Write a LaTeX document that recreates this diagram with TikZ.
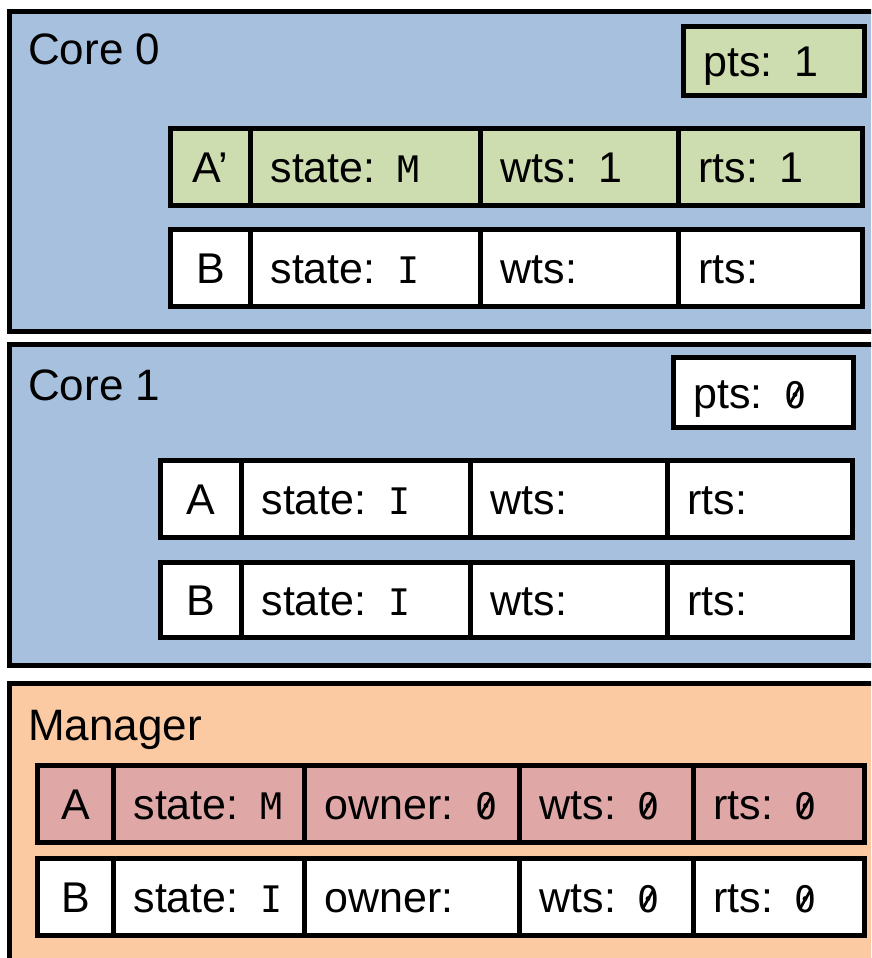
\documentclass[tikz,border=0pt]{standalone}
\usepackage{fontspec}
\setmainfont{Liberation Sans}
\newfontfamily\codefont{DejaVu Sans Mono}[Scale=0.85]
\usetikzlibrary{positioning}
\definecolor{corefill}{HTML}{A7C0DE}
\definecolor{mgrfill}{HTML}{FBCAA2}
\definecolor{newfill}{HTML}{CEDDAF}
\definecolor{ownfill}{HTML}{E0A7A7}
\newcommand{\cd}[1]{{\codefont #1}}
% slashed zero, as the code font prints it
\newcommand{\zr}{{\codefont\ooalign{0\cr\hidewidth\raisebox{.1em}{\rotatebox{60}{\rule{.6em}{.075em}}}\hidewidth\cr}}}
\tikzset{
  big/.style={font=\fontsize{43}{52}\selectfont},
  frame/.style={draw=black, line width=5pt, anchor=north west, inner sep=0pt},
  cell/.style={big, draw=black, fill=white, line width=5pt, anchor=north west, inner xsep=20pt, inner ysep=0pt,
               text height=31pt, text depth=0pt, align=left, minimum height=77pt},
  keycell/.style={cell, inner xsep=0pt, align=center},
  title/.style={font=\fontsize{44}{52}\selectfont, anchor=base west, inner sep=0pt},
}
\begin{document}
\begin{tikzpicture}[x=1pt, y=-1pt]
  \clip (0,0) rectangle (871,958);
  % Core 0
  \node[frame, fill=corefill, minimum width=900pt, minimum height=320pt] (core0) at (7,9) {};
  \node[title] (core0t) at (28,65) {Core 0};
  \node[cell, fill=newfill, text width=141pt, minimum height=69pt] (pts0) at (681,24) {pts: 1};
  \node[keycell, fill=newfill, minimum width=80pt] (c0a) at (168,126) {A’};
  \foreach \n/\x/\w/\t [evaluate=\w as \tw using \w-40] in {st/248/230/{state: \cd{M}}, wts/478/198/{wts: 1}, rts/676/184/{rts: 1}}
    \node[cell, fill=newfill, text width=\tw pt] (c0a-\n) at (\x,126) {\mbox{\t}};
  \node[keycell, minimum width=80pt] (c0b) at (168,227) {B};
  \foreach \n/\x/\w/\t [evaluate=\w as \tw using \w-40] in {st/248/230/{state: \cd{I}}, wts/478/198/{wts:}, rts/676/184/{rts:}}
    \node[cell, text width=\tw pt] (c0b-\n) at (\x,227) {\mbox{\t}};
  % Core 1
  \node[frame, fill=corefill, minimum width=900pt, minimum height=321pt] (core1) at (7,342) {};
  \node[title] (core1t) at (28,400) {Core 1};
  \node[cell, text width=140pt, minimum height=70pt] (pts1) at (671,355) {pts: \zr};
  \node[keycell, minimum width=81pt] (c1a) at (158,458) {A};
  \foreach \n/\x/\w/\t [evaluate=\w as \tw using \w-40] in {st/239/229/{state: \cd{I}}, wts/468/197/{wts:}, rts/665/185/{rts:}}
    \node[cell, text width=\tw pt] (c1a-\n) at (\x,458) {\mbox{\t}};
  \node[keycell, minimum width=81pt, minimum height=75pt] (c1b) at (158,560) {B};
  \foreach \n/\x/\w/\t [evaluate=\w as \tw using \w-40] in {st/239/229/{state: \cd{I}}, wts/468/197/{wts:}, rts/665/185/{rts:}}
    \node[cell, text width=\tw pt, minimum height=75pt] (c1b-\n) at (\x,560) {\mbox{\t}};
  % Manager
  \node[frame, fill=mgrfill, minimum width=900pt, minimum height=300pt] (mgr) at (7,681) {};
  \node[title] (mgrt) at (28,740) {Manager};
  \node[keycell, fill=ownfill, minimum width=76pt] (ma) at (35,763) {A};
  \foreach \n/\x/\w/\t [evaluate=\w as \tw using \w-40] in {st/111/191/{state: \cd{M}}, own/302/215/{owner: \zr},
                        wts/517/174/{wts: \zr}, rts/691/171/{rts: \zr}}
    \node[cell, fill=ownfill, text width=\tw pt] (ma-\n) at (\x,763) {\mbox{\t}};
  \node[keycell, minimum width=76pt] (mb) at (35,856) {B};
  \foreach \n/\x/\w/\t [evaluate=\w as \tw using \w-40] in {st/111/191/{state: \cd{I}}, own/302/215/{owner:},
                        wts/517/174/{wts: \zr}, rts/691/171/{rts: \zr}}
    \node[cell, text width=\tw pt] (mb-\n) at (\x,856) {\mbox{\t}};
\end{tikzpicture}
\end{document}
